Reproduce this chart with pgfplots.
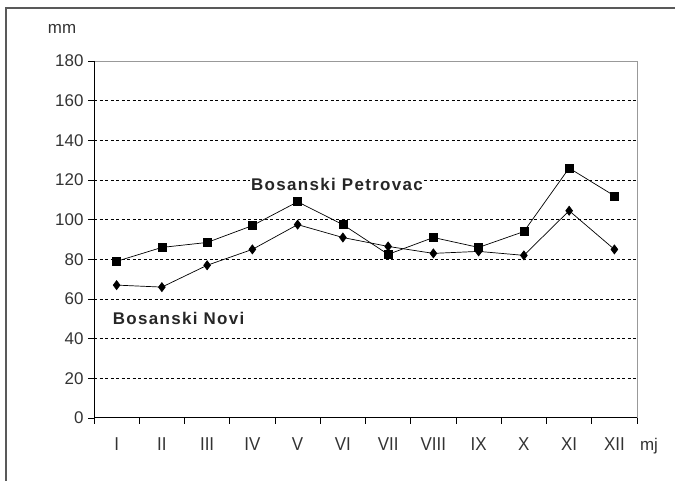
\documentclass[border=0pt]{standalone}
\usepackage{fontspec}
\setmainfont{Liberation Sans}
\usepackage{pgfplots}
\pgfplotsset{compat=1.18}
\begin{document}
\begin{tikzpicture}[x=1bp,y=1bp]
\useasboundingbox (0,0) rectangle (675,481);
\draw[line width=1.4bp,black!65] (6,0) -- (6,473) -- (675,473);
\begin{axis}[
  at={(94bp,63bp)}, anchor=origin,
  scale only axis, width=543bp, height=357bp,
  xmin=0.5, xmax=12.5, ymin=0, ymax=180,
  axis line style={draw=none},
  xtick={1,...,12},
  xticklabels={I,II,III,IV,V,VI,VII,VIII,IX,X,XI,XII},
  major x tick style={draw=none},
  minor xtick={0.5,1.5,...,12.5},
  minor x tick style={black, line width=0.8bp},
  ytick={0,20,...,180},
  major y tick style={black, line width=0.8bp},
  tick align=outside, tick pos=left,
  major tick length=6bp, minor tick length=6bp,
  extra y ticks={20,40,...,160},
  extra y tick labels={},
  extra y tick style={grid=major, major tick length=0pt},
  grid style={black, dash pattern=on 3bp off 2.5bp, line width=0.8bp},
  ticklabel style={font=\fontsize{17}{17}\selectfont, text=black!80},
  yticklabel style={xshift=-1bp},
  xticklabel style={yshift=-10bp, yscale=1.1},
  /pgf/number format/assume math mode=true,
  clip=false,
]
\addplot[black, line width=0.7bp, mark=square*, mark size=4bp, mark options={solid}] coordinates {
(1,79) (2,86) (3,88.5) (4,97) (5,109) (6,97.5) (7,82.5) (8,91) (9,86) (10,94) (11,126) (12,112)};
\addplot[black, line width=0.7bp, mark=diamond*, mark size=4.5bp, mark options={solid}] coordinates {
(1,67) (2,66) (3,77) (4,85) (5,97.5) (6,91) (7,86.5) (8,83) (9,84) (10,82) (11,104.5) (12,85)};
\draw[black!40, line width=0.8bp] (rel axis cs:0,1) -- (rel axis cs:1,1) -- (rel axis cs:1,0);
\draw[black, line width=1bp] (rel axis cs:0,1) -- (rel axis cs:0,0) -- (rel axis cs:1,0);
\node[font=\fontsize{17}{17}\selectfont\bfseries\addfontfeature{LetterSpace=8}, text=black!85, fill=white, inner sep=1bp] at (axis cs:5.87,118) {Bosanski Petrovac};
\node[font=\fontsize{17}{17}\selectfont\bfseries\addfontfeature{LetterSpace=8}, text=black!85, fill=white, inner sep=1bp] at (axis cs:2.37,50) {Bosanski Novi};
\end{axis}
\node[font=\fontsize{17}{17}\selectfont, text=black!80] at (62,452) {mm};
\node[font=\fontsize{17}{17}\selectfont, text=black!80] at (649,35) {mj};
\end{tikzpicture}
\end{document}
